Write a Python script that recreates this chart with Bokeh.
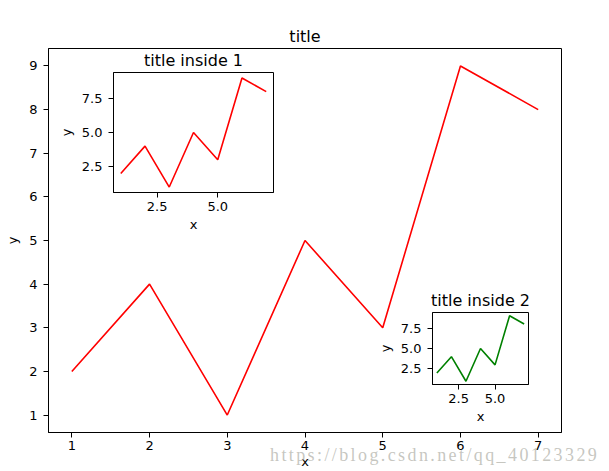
from bokeh.plotting import figure
from bokeh.models import FixedTicker, NumeralTickFormatter, Div
from bokeh.embed import file_html
from bokeh.resources import INLINE

# ---- data ----
x = [1, 2, 3, 4, 5, 6, 7]
y = [2, 4, 1, 5, 3, 9, 8]
main_xticks = [1, 2, 3, 4, 5, 6, 7]
main_yticks = [1, 2, 3, 4, 5, 6, 7, 8, 9]
inset_xticks = [2.5, 5.0]
inset_yticks = [2.5, 5.0, 7.5]
main_title = "title"
inset1_title = "title inside 1"
inset2_title = "title inside 2"
watermark = "https://blog.csdn.net/qq_40123329"

FONT = "DejaVu Sans"


def pad(vals):
    lo, hi = min(vals), max(vals)
    m = 0.05 * (hi - lo)
    return (lo - m, hi + m)


def style(fig, xticks, yticks, fmt=None, xstand=3, ystand=6,
          xlab_stand=0, ylab_stand=6):
    fig.xgrid.visible = False
    fig.ygrid.visible = False
    fig.outline_line_color = "black"
    fig.outline_line_width = 1
    fig.outline_line_alpha = 1
    fig.title.text_font = FONT
    fig.title.text_font_size = "16px"
    fig.title.text_font_style = "normal"
    fig.title.align = "center"
    fig.title.text_color = "black"
    fig.title.standoff = 6
    for ax in fig.axis:
        ax.major_tick_in = 0
        ax.major_tick_out = 5
        ax.minor_tick_out = 0
        ax.minor_tick_in = 0
        ax.major_tick_line_color = "black"
        ax.axis_line_color = "black"
        ax.major_label_text_font = FONT
        ax.major_label_text_font_size = "13px"
        ax.major_label_text_color = "black"
        ax.axis_label_text_font = FONT
        ax.axis_label_text_font_size = "13px"
        ax.axis_label_text_font_style = "normal"
        ax.axis_label_text_color = "black"
        if fmt:
            ax.formatter = NumeralTickFormatter(format=fmt)
    fig.xaxis.major_label_standoff = xstand
    fig.yaxis.major_label_standoff = ystand
    fig.xaxis.axis_label_standoff = xlab_stand
    fig.yaxis.axis_label_standoff = ylab_stand
    fig.xaxis.ticker = FixedTicker(ticks=xticks)
    fig.yaxis.ticker = FixedTicker(ticks=yticks)
    fig.xaxis.axis_label = "x"
    fig.yaxis.axis_label = "y"


# ---- main figure ----
p = figure(width=609, height=471, x_range=pad(x), y_range=pad(y),
           output_backend="svg", toolbar_location=None, title=main_title,
           min_border_left=48, min_border_right=48, min_border_top=48,
           min_border_bottom=39)
style(p, main_xticks, main_yticks, xstand=3, ystand=6, xlab_stand=1,
      ylab_stand=6)
p.line(x, y, line_color="#ff0000", line_width=1.6)

# ---- inset 1 ----
i1 = figure(frame_width=160, frame_height=120, x_range=pad(x), y_range=pad(y),
            output_backend="svg", toolbar_location=None, title=inset1_title,
            min_border_left=60, min_border_right=5, min_border_top=30,
            min_border_bottom=45)
style(i1, inset_xticks, inset_yticks, "0.0", xstand=4, ystand=6,
      xlab_stand=3, ylab_stand=5)
i1.border_fill_alpha = 0
i1.background_fill_color = "white"
i1.line(x, y, line_color="#ff0000", line_width=1.6)
i1.styles = {"position": "absolute", "left": "53px", "top": "42px"}

# ---- inset 2 ----
i2 = figure(frame_width=96, frame_height=72, x_range=pad(x), y_range=pad(y),
            output_backend="svg", toolbar_location=None, title=inset2_title,
            min_border_left=60, min_border_right=5, min_border_top=30,
            min_border_bottom=45)
style(i2, inset_xticks, inset_yticks, "0.0", xstand=4, ystand=6,
      xlab_stand=3, ylab_stand=5)
i2.border_fill_alpha = 0
i2.background_fill_color = "white"
i2.line(x, y, line_color="#008000", line_width=1.6)
i2.styles = {"position": "absolute", "left": "372px", "top": "282px"}

# ---- watermark ----
wm = Div(text=('<span style="font-family:\'Liberation Serif\';font-size:18px;'
               'line-height:18px;letter-spacing:2.4px;'
               'color:rgba(180,180,172,0.75);'
               'white-space:nowrap">' + watermark + '</span>'),
         width=345, height=20)
wm.styles = {"position": "absolute", "left": "265px", "top": "441px"}

# separate roots, so that Bokeh does not align the frames of the figures
open("out.html", "w").write(file_html([p, i1, i2, wm], INLINE))
